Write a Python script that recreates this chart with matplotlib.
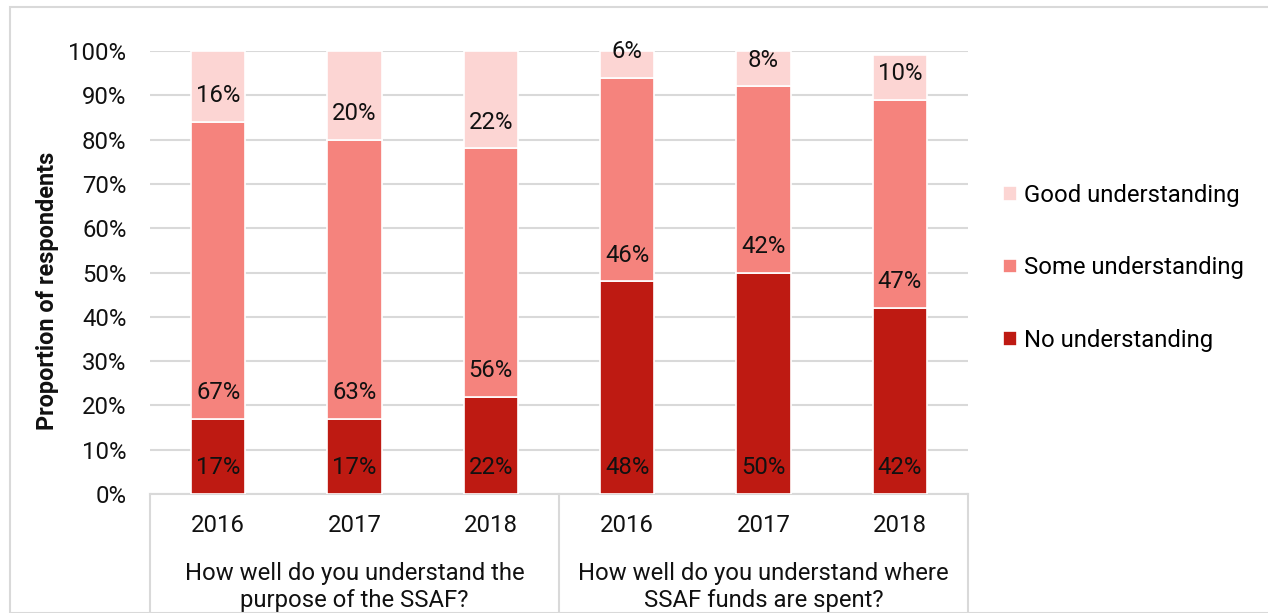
import matplotlib
matplotlib.use("Agg")
import matplotlib.pyplot as plt
from matplotlib.patches import Rectangle
from matplotlib.lines import Line2D
import numpy as np

plt.rcParams['font.family'] = ['Roboto', 'DejaVu Sans']

years = ["2016", "2017", "2018", "2016", "2017", "2018"]
groups = ["How well do you understand the\npurpose of the SSAF?",
          "How well do you understand where\nSSAF funds are spent?"]
no_understanding = [17, 17, 22, 48, 50, 42]
some_understanding = [67, 63, 56, 46, 42, 47]
good_understanding = [16, 20, 22, 6, 8, 10]

series = [
    ("No understanding", no_understanding, "#BE1A12"),
    ("Some understanding", some_understanding, "#F5837D"),
    ("Good understanding", good_understanding, "#FCD5D3"),
]

W, H = 1268, 613
fig = plt.figure(figsize=(W / 100, H / 100), dpi=100)
FS = 17.2

# outer chart border
fig.patches.append(Rectangle((10 / W, 0), 1.2, (H - 7) / H, transform=fig.transFigure,
                             fill=False, edgecolor="#D9D9D9", linewidth=1.5, clip_on=False))

ax = fig.add_axes([150 / W, (H - 494) / H, (968 - 150) / W, (494 - 51) / H])
x = np.arange(len(years))
bottom = np.zeros(len(years))
handles = {}
for name, vals, color in series:
    vals = np.array(vals, dtype=float)
    bars = ax.bar(x, vals, width=0.40, bottom=bottom, color=color,
                  edgecolor="white", linewidth=1.2, zorder=3)
    handles[name] = bars
    for xi, b, v in zip(x, bottom, vals):
        ax.annotate(f"{int(v)}%", (xi, b), xytext=(0, 26), textcoords="offset pixels",
                    ha="center", va="center", fontsize=FS, color="#111111", zorder=4)
    bottom += vals

ax.set_xlim(-0.5, len(years) - 0.5)
ax.set_ylim(0, 100)
ax.set_yticks(np.arange(0, 101, 10))
ax.set_yticklabels([f"{t}%" for t in range(0, 101, 10)], fontsize=FS, color="#111111")
ax.tick_params(axis="y", length=0, pad=17)
ax.set_xticks([])
ax.yaxis.grid(True, color="#D9D9D9", linewidth=1.5, zorder=0)
ax.set_axisbelow(True)
for s in ["top", "right", "left"]:
    ax.spines[s].set_visible(False)
ax.spines["bottom"].set_color("#D9D9D9")
ax.spines["bottom"].set_linewidth(1.5)

trans = ax.get_xaxis_transform()
for xi, yr in zip(x, years):
    ax.text(xi, -32 / 443, yr, transform=trans, ha="center", va="center",
            fontsize=FS, color="#111111")
for gi, g in enumerate(groups):
    ax.text(gi * 3 + 1, -93 / 443, g, transform=trans, ha="center", va="center",
            fontsize=FS, color="#111111", linespacing=1.18)
for xs in [-0.5, 2.5, 5.5]:
    ax.add_line(Line2D([xs, xs], [0, -0.4], transform=trans, color="#D9D9D9",
                       linewidth=1.5, clip_on=False))

fig.text(48 / W, (H - 291) / H, "Proportion of respondents", rotation=90,
         ha="center", va="center", fontsize=16.9, fontweight="bold", color="#111111")

order = ["Good understanding", "Some understanding", "No understanding"]
fig.legend([handles[n] for n in order], order, loc="center left",
           bbox_to_anchor=(1003 / W, (H - 268) / H), frameon=False, fontsize=FS,
           handlelength=0.58, handleheight=0.58, handletextpad=0.3, labelspacing=2.07,
           borderpad=0, borderaxespad=0)

fig.savefig("out.png", dpi=100)
